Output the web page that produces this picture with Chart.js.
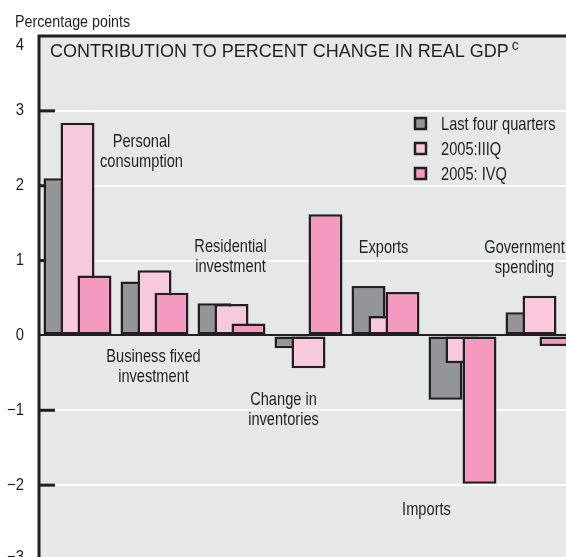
<!DOCTYPE html>
<html>
<head>
<meta charset="utf-8">
<script src="https://cdn.jsdelivr.net/npm/chart.js@4/dist/chart.umd.min.js"></script>
<style>
  html, body { margin: 0; padding: 0; background: #ffffff; overflow: hidden; width: 566px; height: 557px; }
  #wrap { position: relative; width: 580px; height: 562px; }
</style>
</head>
<body>
<div id="wrap"><canvas id="c" width="580" height="562"></canvas></div>
<script>
const categories = ["Personal consumption", "Business fixed investment", "Residential investment",
  "Change in inventories", "Exports", "Imports", "Government spending"];
const lastFourQuarters = [2.10, 0.72, 0.43, -0.17, 0.66, -0.86, 0.31];
const q3_2005 = [2.84, 0.87, 0.42, -0.44, 0.26, -0.37, 0.53];
const q4_2005 = [0.80, 0.57, 0.16, 1.62, 0.58, -1.98, -0.14];
const seriesNames = ["Last four quarters", "2005:IIIQ", "2005: IVQ"];
const yTicks = [4, 3, 2, 1, 0, -1, -2, -3];
const yTickLabels = ["4", "3", "2", "1", "0", "\u22121", "\u22122", "\u22123"];
const titleText = "CONTRIBUTION TO PERCENT CHANGE IN REAL GDP";
const titleSup = "c";
const unitText = "Percentage points";
// category annotation lines
const catLabelLines = [["Personal", "consumption"], ["Business fixed", "investment"], ["Residential", "investment"],
  ["Change in", "inventories"], ["Exports"], ["Imports"], ["Government", "spending"]];

const SANS = '"Liberation Sans", Arial, Helvetica, sans-serif';
const INK = '#231f20';
const colors = ['#939598', '#f8c8dc', '#f49ac1'];

// label placement: x offset (px) from category centre, y value of first line centre
const labelPlace = [
  { dx: 64, y: 2.59 }, { dx: -1, y: -0.29 }, { dx: -1, y: 1.18 },
  { dx: -25, y: -0.86 }, { dx: -2, y: 1.17 }, { dx: -36, y: -2.33 }, { dx: -15, y: 1.17 }
];

function squeezedText(ctx, txt, x, y, align, sx) {
  ctx.save();
  ctx.translate(x, y);
  ctx.scale(sx, 1);
  ctx.textAlign = align;
  ctx.fillText(txt, 0, 0);
  ctx.restore();
}

const bgPlugin = {
  id: 'bg',
  beforeDraw(chart) {
    const { ctx, chartArea: a } = chart;
    ctx.save();
    ctx.fillStyle = '#e6e7e8';
    ctx.fillRect(a.left, a.top, a.right - a.left, a.bottom - a.top);
    ctx.restore();
  },
  beforeDatasetsDraw(chart) {
    const { ctx, chartArea: a, scales } = chart;
    const y = scales.y;
    ctx.save();
    ctx.strokeStyle = INK;
    ctx.lineWidth = 3;
    yTicks.forEach(v => {
      if (v === 4 || v === 0) return;
      const py = y.getPixelForValue(v);
      ctx.beginPath(); ctx.moveTo(a.left, py); ctx.lineTo(a.left + 16, py); ctx.stroke();
    });
    ctx.restore();
    // draw datasets in forward order so later series sit on top
    ctx.save();
    ctx.beginPath();
    ctx.rect(a.left, a.top, a.right - a.left, a.bottom - a.top);
    ctx.clip();
    chart.getSortedVisibleDatasetMetas().forEach(m => m.controller.draw());
    ctx.restore();
    return false;
  },
  afterDraw(chart) {
    const { ctx, chartArea: a, scales } = chart;
    const x = scales.x, y = scales.y;
    ctx.save();
    // frame
    ctx.strokeStyle = INK;
    ctx.lineWidth = 3;
    ctx.beginPath();
    ctx.moveTo(a.left, a.bottom + 5);
    ctx.lineTo(a.left, a.top);
    ctx.lineTo(a.right + 5, a.top);
    ctx.stroke();
    ctx.fillStyle = INK;
    // y tick labels (extremes nudged inside like the original)
    ctx.font = '16.5px ' + SANS;
    ctx.textBaseline = 'middle';
    yTicks.forEach((v, i) => {
      let py = y.getPixelForValue(v);
      if (v === 4) py += 9;
      if (v === -3) py -= 3;
      squeezedText(ctx, yTickLabels[i], 24, py, 'right', 0.9);
    });
    // unit label
    ctx.textBaseline = 'alphabetic';
    ctx.font = '17px ' + SANS;
    squeezedText(ctx, unitText, 15, 27, 'left', 0.84);
    // title (inside plot)
    ctx.font = '18px ' + SANS;
    ctx.textAlign = 'left';
    ctx.fillText(titleText, 50, 57);
    const tw = ctx.measureText(titleText).width;
    ctx.font = '14px ' + SANS;
    ctx.fillText(titleSup, 50 + tw + 3, 50);
    // category labels
    ctx.font = '19px ' + SANS;
    ctx.textBaseline = 'middle';
    catLabelLines.forEach((lines, i) => {
      const cx = x.getPixelForValue(i) + labelPlace[i].dx;
      const py = y.getPixelForValue(labelPlace[i].y);
      lines.forEach((ln, j) => squeezedText(ctx, ln, cx, py + j * 20, 'center', 0.77));
    });
    // legend
    chart.data.datasets.forEach((ds, i) => {
      const cy = 124 + i * 25;
      ctx.fillStyle = ds.backgroundColor;
      ctx.fillRect(415, cy - 6, 11, 11);
      ctx.lineWidth = 2.5;
      ctx.strokeStyle = INK;
      ctx.strokeRect(415, cy - 6, 11, 11);
      ctx.fillStyle = INK;
      squeezedText(ctx, ds.label, 441, cy + 1, 'left', 0.77);
    });
    ctx.restore();
  }
};

const ds = (label, data, i) => ({
  label, data,
  backgroundColor: colors[i],
  borderColor: INK,
  borderWidth: 2.5,
  borderSkipped: false,
  categoryPercentage: 0.662,
  barPercentage: 2.0
});

new Chart(document.getElementById('c'), {
  type: 'bar',
  data: {
    labels: categories,
    datasets: [ds(seriesNames[0], lastFourQuarters, 0), ds(seriesNames[1], q3_2005, 1), ds(seriesNames[2], q4_2005, 2)]
  },
  options: {
    responsive: false,
    animation: false,
    layout: { padding: { top: 36, right: 2, bottom: 2, left: 0 } },
    plugins: { legend: { display: false }, tooltip: { enabled: false } },
    scales: {
      x: { display: false },
      y: {
        min: -3, max: 4,
        afterFit(s) { s.width = 39; },
        afterBuildTicks(s) { s.ticks = yTicks.map(v => ({ value: v })); },
        border: { display: false },
        grid: {
          drawTicks: false,
          lineWidth: 2,
          color: c => (c.tick && c.tick.value === 0) ? INK : '#ffffff'
        },
        ticks: { display: false }
      }
    }
  },
  plugins: [bgPlugin]
});
</script>
</body>
</html>
